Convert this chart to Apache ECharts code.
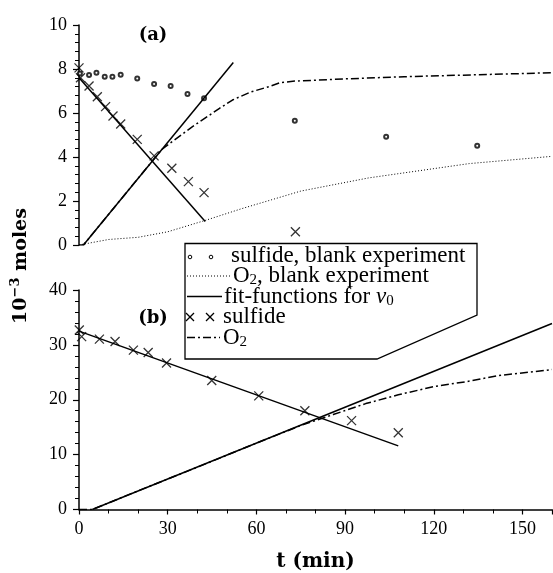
<!DOCTYPE html>
<html>
<head>
<meta charset="utf-8">
<script src="https://cdn.jsdelivr.net/npm/echarts@6/dist/echarts.min.js"></script>
<style>
  html, body { margin: 0; padding: 0; background: #fff; }
  #main { width: 553px; height: 573px; }
</style>
</head>
<body>
<div id="main"></div>
<script>
// panel (a): blank experiment + first run
const tA_blankSulfide = [0.3, 3.4, 5.9, 8.7, 11.3, 14.1, 19.7, 25.4, 31, 36.7, 42.3, 73, 103.9, 134.7];
const vA_blankSulfide = [7.8, 7.73, 7.83, 7.65, 7.65, 7.74, 7.57, 7.32, 7.23, 6.86, 6.67, 5.65, 4.92, 4.51];

const tA_blankO2 = [0, 10, 20, 30, 43, 55, 65, 75, 98, 132, 160];
const vA_blankO2 = [0, 0.25, 0.35, 0.6, 1.13, 1.65, 2.05, 2.45, 3.05, 3.7, 4.03];

const tA_sulfide = [0, 0.5, 3.4, 6.2, 9, 11.5, 14.1, 19.7, 25.4, 31.4, 37, 42.3, 73.2];
const vA_sulfide = [8.05, 7.6, 7.23, 6.74, 6.29, 5.86, 5.5, 4.8, 4.05, 3.49, 2.88, 2.38, 0.6];

const tA_O2 = [0, 1.5, 12, 25, 28, 30.5, 38.4, 47.4, 51.9, 58, 64.3, 68, 73, 90, 110, 135, 160];
const vA_O2 = [0, 0, 1.72, 3.85, 4.34, 4.6, 5.38, 6.2, 6.59, 6.95, 7.2, 7.38, 7.45, 7.55, 7.65, 7.74, 7.83];

const tA_fitSulfide = [0, 42.7];
const vA_fitSulfide = [7.6, 1.07];
const tA_fitO2 = [1.5, 52.2];
const vA_fitO2 = [0, 8.3];

// panel (b)
const tB_sulfide = [0.1, 0.9, 6.9, 12.2, 18.4, 23.4, 29.6, 44.9, 60.8, 76.4, 92.2, 108];
const vB_sulfide = [32.7, 31.5, 31.05, 30.6, 29.05, 28.6, 26.7, 23.5, 20.7, 18.0, 16.2, 14.0];

const tB_O2 = [0, 4.5, 20, 40, 60, 75, 86, 97, 108, 120, 131, 142, 160];
const vB_O2 = [0, 0, 3.4, 7.7, 12.1, 15.3, 17.3, 19.3, 20.9, 22.4, 23.3, 24.4, 25.5];

const tB_fitSulfide = [0, 108];
const vB_fitSulfide = [32.5, 11.6];
const tB_fitO2 = [4.5, 160];
const vB_fitO2 = [0, 33.9];

const xTicks = {min: 0, max: 160, interval: 30};
const yTicksA = {min: 0, max: 10, interval: 2};
const yTicksB = {min: 0, max: 40, interval: 10};

const pairs = (xs, ys) => xs.map((x, i) => [x, ys[i]]);

const serif = 'Liberation Serif';
const boldSerif = 'DejaVu Serif';
const black = '#000';
const dashDot = [8, 3, 2, 3];
const crossPath = 'path://M0,0L10,10M0,10L10,0';

const yAxis = (grid, ticks) => ({
  type: 'value',
  gridIndex: grid,
  min: ticks.min,
  max: ticks.max,
  interval: ticks.interval,
  axisLine: {show: true, lineStyle: {color: black, width: 1.5}},
  axisTick: {length: 6, lineStyle: {color: black, width: 1.2}},
  minorTick: {show: true, splitNumber: 5, length: 4, lineStyle: {color: black, width: 1}},
  axisLabel: {color: black, fontFamily: serif, fontSize: 18, margin: 12},
  splitLine: {show: false},
  minorSplitLine: {show: false}
});

const lineSeries = (name, xi, xs, ys, style) => ({
  name: name,
  type: 'line',
  xAxisIndex: xi,
  yAxisIndex: xi,
  data: pairs(xs, ys),
  symbol: 'none',
  lineStyle: Object.assign({color: black, width: 1.5}, style)
});

const crossSeries = (xi, xs, ys) => ({
  name: 'sulfide',
  type: 'scatter',
  xAxisIndex: xi,
  yAxisIndex: xi,
  data: pairs(xs, ys),
  symbol: crossPath,
  symbolSize: 9,
  itemStyle: {color: 'none', borderColor: black, borderWidth: 1.3}
});

// legend rows (y centres)
const legendRows = [256, 276, 296.5, 317, 337.5];
const richText = {
  sub: {fontFamily: serif, fontSize: 15, lineHeight: 12, verticalAlign: 'bottom', fill: black},
  it: {fontFamily: serif, fontSize: 23, fontStyle: 'italic', lineHeight: 24, fill: black}
};
const legendText = (x, y, text) => ({
  type: 'text',
  z: 101,
  x: x,
  y: y,
  style: {
    text: text,
    fontFamily: serif,
    fontSize: 23,
    lineHeight: 24,
    fill: black,
    align: 'left',
    verticalAlign: 'middle',
    rich: richText
  }
});
const seg = (x1, y1, x2, y2, extra) => ({
  type: 'line',
  z: 101,
  shape: {x1: x1, y1: y1, x2: x2, y2: y2},
  style: Object.assign({stroke: black, lineWidth: 1.5}, extra)
});
const cross = (cx, cy) => [
  seg(cx - 4, cy - 4, cx + 4, cy + 4, {lineWidth: 1.3}),
  seg(cx - 4, cy + 4, cx + 4, cy - 4, {lineWidth: 1.3})
];

const graphics = [
  {
    type: 'polygon',
    z: 100,
    shape: {points: [[185, 243.5], [477, 243.5], [477, 315], [377, 359], [185, 359]]},
    style: {fill: '#fff', stroke: black, lineWidth: 1.3}
  },
  {type: 'circle', z: 101, shape: {cx: 190, cy: legendRows[0] + 1, r: 1.8}, style: {fill: '#fff', stroke: black, lineWidth: 1}},
  {type: 'circle', z: 101, shape: {cx: 211, cy: legendRows[0] + 1, r: 1.8}, style: {fill: '#fff', stroke: black, lineWidth: 1}},
  seg(187, legendRows[1], 231, legendRows[1], {lineWidth: 1, lineDash: [1, 2]}),
  seg(187, legendRows[2], 222, legendRows[2]),
  ...cross(190, legendRows[3]),
  ...cross(210, legendRows[3]),
  seg(187, legendRows[4], 220, legendRows[4], {lineDash: dashDot}),
  legendText(231, legendRows[0], 'sulfide, blank experiment'),
  legendText(233, legendRows[1], 'O{sub|2}, blank experiment'),
  legendText(224, legendRows[2], 'fit-functions for {it|v}{sub|0}'),
  legendText(223, legendRows[3], 'sulfide'),
  legendText(223, legendRows[4], 'O{sub|2}'),
  {
    type: 'text', x: 153, y: 35,
    style: {text: '(a)', fontFamily: boldSerif, fontWeight: 'bold', fontSize: 18, fill: black, align: 'center', verticalAlign: 'middle'}
  },
  {
    type: 'text', x: 153, y: 318,
    style: {text: '(b)', fontFamily: boldSerif, fontWeight: 'bold', fontSize: 18, fill: black, align: 'center', verticalAlign: 'middle'}
  },
  {
    type: 'text', x: 21, y: 266, rotation: Math.PI / 2,
    style: {
      text: '{b|10}{sup|−3}{b| moles}',
      align: 'center',
      verticalAlign: 'middle',
      rich: {
        b: {fontFamily: boldSerif, fontWeight: 'bold', fontSize: 19, lineHeight: 24, fill: black},
        sup: {fontFamily: boldSerif, fontWeight: 'bold', fontSize: 13, lineHeight: 12, verticalAlign: 'top', fill: black}
      }
    }
  }
];

const chart = echarts.init(document.getElementById('main'));
const option = {
  animation: false,
  backgroundColor: '#fff',
  grid: [
    {left: 79, right: 1, top: 25, height: 220, outerBoundsMode: 'none'},
    {left: 79, right: 1, top: 290, height: 219.5, outerBoundsMode: 'none'}
  ],
  xAxis: [
    {type: 'value', gridIndex: 0, min: xTicks.min, max: xTicks.max, interval: xTicks.interval, show: false},
    {
      type: 'value',
      gridIndex: 1,
      min: xTicks.min,
      max: xTicks.max,
      interval: xTicks.interval,
      name: 't (min)',
      nameLocation: 'middle',
      nameGap: 42,
      nameTextStyle: {color: black, fontFamily: boldSerif, fontWeight: 'bold', fontSize: 20},
      axisLine: {show: true, lineStyle: {color: black, width: 1.5}},
      axisTick: {length: 5, lineStyle: {color: black, width: 1.2}},
      minorTick: {show: true, splitNumber: 3, length: 4, lineStyle: {color: black, width: 1}},
      axisLabel: {color: black, fontFamily: serif, fontSize: 18, margin: 11, showMaxLabel: false},
      splitLine: {show: false}
    }
  ],
  yAxis: [yAxis(0, yTicksA), yAxis(1, yTicksB)],
  series: [
    {
      name: 'sulfide, blank experiment',
      type: 'scatter',
      xAxisIndex: 0,
      yAxisIndex: 0,
      data: pairs(tA_blankSulfide, vA_blankSulfide),
      symbol: 'emptyCircle',
      symbolSize: 4,
      itemStyle: {color: black, borderWidth: 1}
    },
    lineSeries('O2, blank experiment', 0, tA_blankO2, vA_blankO2, {width: 1, type: [1, 2]}),
    lineSeries('fit-functions for v0', 0, tA_fitSulfide, vA_fitSulfide, {}),
    lineSeries('fit-functions for v0', 0, tA_fitO2, vA_fitO2, {}),
    lineSeries('O2', 0, tA_O2, vA_O2, {type: dashDot}),
    crossSeries(0, tA_sulfide, vA_sulfide),
    lineSeries('fit-functions for v0', 1, tB_fitSulfide, vB_fitSulfide, {}),
    lineSeries('fit-functions for v0', 1, tB_fitO2, vB_fitO2, {}),
    lineSeries('O2', 1, tB_O2, vB_O2, {type: dashDot}),
    crossSeries(1, tB_sulfide, vB_sulfide)
  ],
  graphic: graphics
};
chart.setOption(option);
</script>
</body>
</html>
